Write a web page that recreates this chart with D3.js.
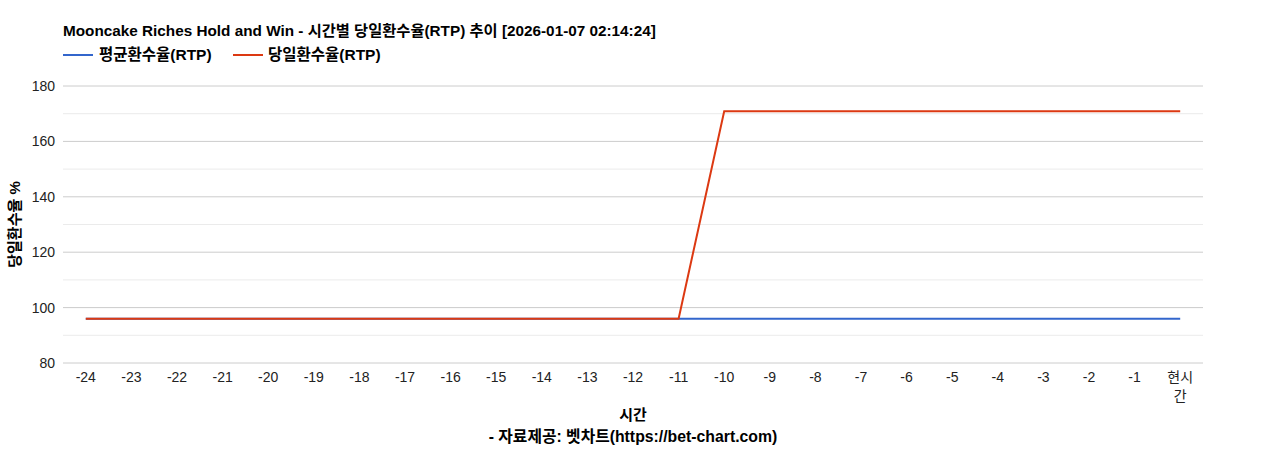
<!DOCTYPE html>
<html><head><meta charset="utf-8">
<script src="https://cdn.jsdelivr.net/npm/d3@7"></script>
<style>
body{margin:0;background:#fff;}
text{font-family:Arial,"Liberation Sans","Noto Sans CJK KR",sans-serif;}
</style></head>
<body><svg id="c" width="1268" height="450"></svg>
<script>
const categories = ["-24","-23","-22","-21","-20","-19","-18","-17","-16","-15","-14","-13","-12","-11","-10","-9","-8","-7","-6","-5","-4","-3","-2","-1","현시간"];
const avgRtp = [96,96,96,96,96,96,96,96,96,96,96,96,96,96,96,96,96,96,96,96,96,96,96,96,96];
const dayRtp = [96,96,96,96,96,96,96,96,96,96,96,96,96,96,170.9,170.9,170.9,170.9,170.9,170.9,170.9,170.9,170.9,170.9,170.9];
const yTicks = [80,100,120,140,160,180];
const yMinor = [90,110,130,150,170];
const seriesNames = ["평균환수율(RTP)","당일환수율(RTP)"];
const colors = ["#3366cc","#dc3912"];
const title = "Mooncake Riches Hold and Win - 시간별 당일환수율(RTP) 추이 [2026-01-07 02:14:24]";

const svg = d3.select("#c");
const L=63,R=1203,T=86,B=363;
const x = d3.scalePoint().domain(categories).range([L,R]).padding(0.5);
const y = d3.scaleLinear().domain([80,180]).range([B,T]);

// grid
svg.append("g").selectAll("line").data(yMinor).join("line")
  .attr("x1",L).attr("x2",R).attr("y1",d=>y(d)).attr("y2",d=>y(d))
  .attr("stroke","#ebebeb").attr("stroke-width",1);
svg.append("g").selectAll("line").data(yTicks).join("line")
  .attr("x1",L).attr("x2",R).attr("y1",d=>y(d)).attr("y2",d=>y(d))
  .attr("stroke","#cccccc").attr("stroke-width",1);

// y labels
svg.append("g").selectAll("text").data(yTicks).join("text")
  .attr("x",L-8).attr("y",d=>y(d)).attr("dy","0.35em")
  .attr("text-anchor","end").attr("font-size",14).attr("fill","#222")
  .text(d=>d);

// x labels
const xl = svg.append("g").selectAll("text").data(categories).join("text")
  .attr("x",d=>x(d)).attr("y",B+19)
  .attr("text-anchor","middle").attr("font-size",14).attr("fill","#222");
xl.each(function(d){
  const t=d3.select(this);
  if(d.length>2 && !d.startsWith("-")){
    t.append("tspan").attr("x",x(d)).text(d.slice(0,2));
    t.append("tspan").attr("x",x(d)).attr("dy",19).text(d.slice(2));
  } else t.text(d);
});

// lines
const line = vals => d3.line().x((d,i)=>x(categories[i])).y(d=>y(d))(vals);
svg.append("path").attr("d",line(avgRtp)).attr("fill","none").attr("stroke",colors[0]).attr("stroke-width",2);
svg.append("path").attr("d",line(dayRtp)).attr("fill","none").attr("stroke",colors[1]).attr("stroke-width",2);

// title
svg.append("text").attr("x",L).attr("y",36).attr("font-size",15.3).attr("font-weight","bold").attr("fill","#000")
  .text(title);

// legend
const lg=[{x:63,tx:99},{x:233,tx:268}];
seriesNames.forEach((n,i)=>{
  svg.append("line").attr("x1",lg[i].x).attr("x2",lg[i].x+30).attr("y1",55).attr("y2",55)
    .attr("stroke",colors[i]).attr("stroke-width",2);
  svg.append("text").attr("x",lg[i].tx).attr("y",55).attr("dy","0.35em").attr("font-size",15.5)
    .attr("font-weight","bold").attr("fill","#000").text(n);
});

// axis titles
svg.append("text").attr("transform",`translate(20,${(T+B)/2}) rotate(-90)`)
  .attr("text-anchor","middle").attr("font-size",15).attr("font-weight","bold").attr("fill","#000")
  .text("당일환수율 %");
svg.append("text").attr("x",(L+R)/2).attr("y",420).attr("text-anchor","middle")
  .attr("font-size",15).attr("font-weight","bold").attr("fill","#000").text("시간");
svg.append("text").attr("x",(L+R)/2).attr("y",442).attr("text-anchor","middle")
  .attr("font-size",15.8).attr("font-weight","bold").attr("fill","#000").text("- 자료제공: 벳차트(https://bet-chart.com)");
</script></body></html>
